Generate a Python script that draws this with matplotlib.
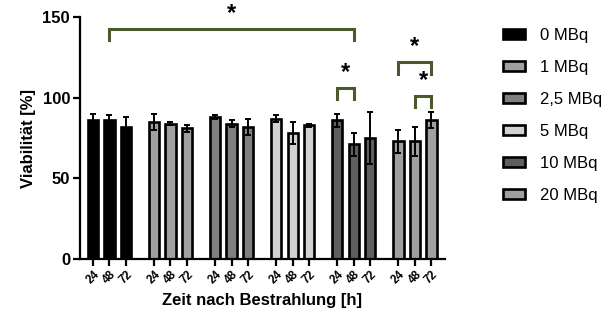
import matplotlib.pyplot as plt
import numpy as np
from matplotlib.patches import Patch

plt.rcParams['font.family'] = ['Liberation Sans', 'DejaVu Sans']

doses = ['0 MBq', '1 MBq', '2,5 MBq', '5 MBq', '10 MBq', '20 MBq']
times = ['24', '48', '72']
colors = ['#000000', '#a0a0a0', '#808080', '#d2d2d2', '#5e5e5e', '#a0a0a0']

means = [
  [86, 86, 82],
  [85, 84, 81],
  [88, 84, 82],
  [87, 78, 83],
  [86, 71, 75],
  [73, 73, 86],
]
errs = [
  [4, 3, 6],
  [5, 1, 2],
  [1, 2, 5],
  [2, 7, 1],
  [4, 7, 16],
  [7, 9, 5],
]

# significance brackets: (group_a, time_a), (group_b, time_b), height, leg length
brackets = [
  ((0, 1), (4, 1), 142.5, 6.5),
  ((4, 0), (4, 1), 106, 7),
  ((5, 0), (5, 2), 122, 7),
  ((5, 1), (5, 2), 101, 7),
]

group_gap = 3.7
bar_w = 0.62

fig = plt.figure(figsize=(6.14, 3.35), dpi=100)
ax = fig.add_axes([0.130, 0.227, 0.595, 0.722])

def xpos(g, t):
  return g * group_gap + t

ticks = []
tick_labels = []
for g in range(len(doses)):
  xs = [xpos(g, t) for t in range(len(times))]
  ax.bar(xs, means[g], width=bar_w, color=colors[g], edgecolor='black', linewidth=1.9, zorder=2)
  ax.errorbar(xs, means[g], yerr=errs[g], fmt='none', ecolor='black', elinewidth=1.4,
              capsize=2.5, capthick=1.4, zorder=3)
  ticks += xs
  tick_labels += times

bracket_color = '#4b5a2c'
for (a, b, h, leg) in brackets:
  x1 = xpos(*a)
  x2 = xpos(*b)
  ax.plot([x1, x1, x2, x2], [h - leg, h, h, h - leg], color=bracket_color, lw=2.2,
          clip_on=False, zorder=4, solid_joinstyle='miter')
  ax.text((x1 + x2) / 2, h + 2.5, '*', ha='center', va='bottom', fontsize=17,
          fontweight='bold', clip_on=False)

ax.set_xlim(-0.79, 21.33)
ax.set_ylim(0, 150)
ax.set_yticks([0, 50, 100, 150])
ax.set_xticks(ticks)
ax.set_xticklabels(tick_labels, rotation=45, ha='center', fontsize=8.5, fontweight='bold')
for lbl in ax.get_yticklabels():
  lbl.set_fontweight('bold')
  lbl.set_fontsize(12)

ax.spines['top'].set_visible(False)
ax.spines['right'].set_visible(False)
ax.spines['left'].set_linewidth(1.6)
ax.spines['bottom'].set_linewidth(1.6)
ax.tick_params(axis='both', width=1.6, length=5, pad=2)

ax.set_ylabel('Viabilität [%]', fontsize=12, fontweight='bold', labelpad=5)
ax.set_xlabel('Zeit nach Bestrahlung [h]', fontsize=12, fontweight='bold', labelpad=5)

handles = [Patch(facecolor=c, edgecolor='black', linewidth=1.9) for c in colors]
fig.legend(handles, doses, loc='upper left', bbox_to_anchor=(0.795, 0.962), frameon=False,
           fontsize=12, handlelength=1.3, handleheight=0.55, labelspacing=1.02, handletextpad=0.9)

fig.savefig('out.png', dpi=100)
